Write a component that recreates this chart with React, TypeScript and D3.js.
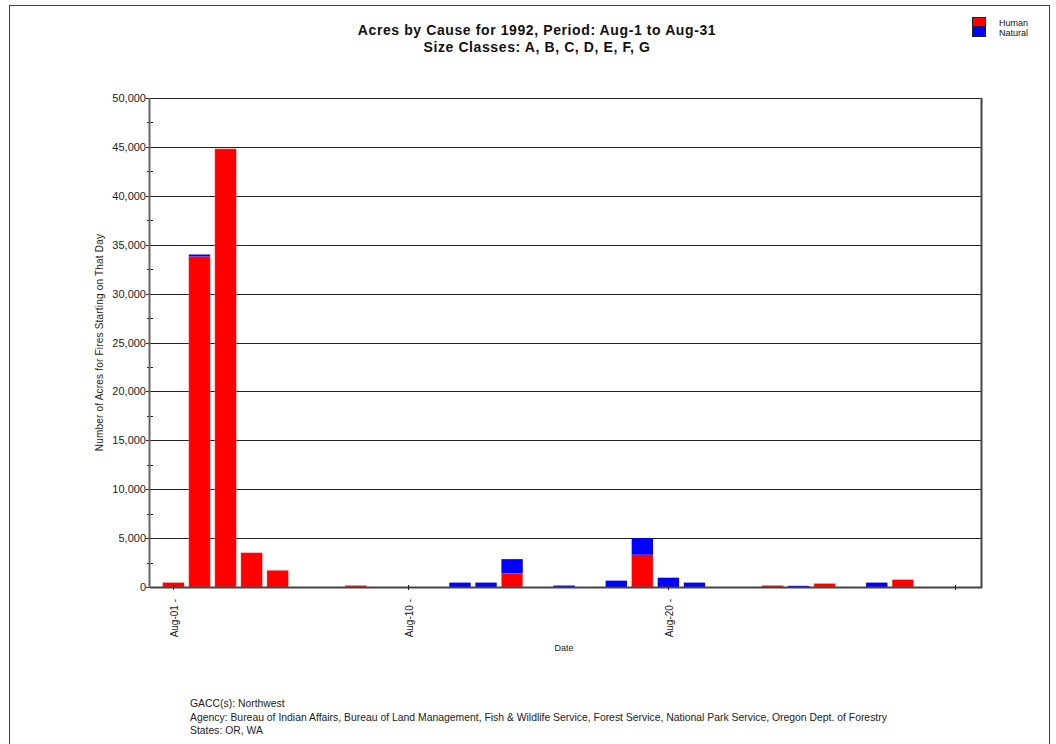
import React from 'react';
import * as d3 from 'd3';

// Acres per day (Aug 1992)
const days = [1, 2, 3, 4, 5, 8, 12, 13, 14, 16, 18, 19, 20, 21, 24, 25, 26, 28, 29];
const humanAcres = [450, 33800, 44800, 3500, 1700, 150, 0, 0, 1400, 0, 0, 3300, 0, 0, 150, 0, 350, 0, 750];
const naturalAcres = [0, 200, 0, 0, 0, 0, 450, 450, 1450, 150, 650, 1700, 950, 450, 0, 120, 0, 450, 0];

const yTicks = [0, 5000, 10000, 15000, 20000, 25000, 30000, 35000, 40000, 45000, 50000];
const yMinor = [2500, 7500, 12500, 17500, 22500, 27500, 32500, 37500, 42500, 47500];
const xTickDays = [1, 10, 20, 31];
const xTickLabels = ['Aug-01 -', 'Aug-10 -', 'Aug-20 -', ''];

const causes = ['Human', 'Natural'];
const causeColors = ['#ff0000', '#0000ff'];

const footer = [
  'GACC(s): Northwest',
  'Agency: Bureau of Indian Affairs, Bureau of Land Management, Fish & Wildlife Service, Forest Service, National Park Service, Oregon Dept. of Forestry',
  'States: OR, WA',
];

const W = 1056;
const H = 744;
const plot = { left: 150, right: 981, top: 98, bottom: 587 };
const font = 'Arial, "Liberation Sans", sans-serif';

const App: React.FC = () => {
  const x = d3.scaleLinear().domain([0.1, 32]).range([plot.left, plot.right]);
  const y = d3.scaleLinear().domain([0, 50000]).range([plot.bottom, plot.top]);
  const step = x(2) - x(1);
  const barW = step * 0.82;
  const fmt = d3.format(',');

  const rows = days.map((d, i) => ({ day: d, Human: humanAcres[i], Natural: naturalAcres[i] }));
  const stacked = d3.stack<any>().keys(causes)(rows);

  return (
    <svg
      width={W}
      height={H}
      style={{ position: 'absolute', left: 0, top: 0, background: '#fff' }}
      fontFamily={font}
    >
      <rect x={9.5} y={5.5} width={1040} height={760} fill="#fff" stroke="#444" />

      {/* title */}
      <text x={537} y={35} textAnchor="middle" fontSize={14} fontWeight="bold" fill="#111" letterSpacing={0.6}>
        Acres by Cause for 1992, Period: Aug-1 to Aug-31
      </text>
      <text x={537} y={52} textAnchor="middle" fontSize={14} fontWeight="bold" fill="#111" letterSpacing={0.6}>
        Size Classes: A, B, C, D, E, F, G
      </text>

      {/* legend */}
      {causes.map((c, i) => (
        <g key={c}>
          <rect x={972.5} y={17.5 + i * 10} width={13} height={9} fill={causeColors[i]} stroke="#222" />
          <text x={999} y={25.5 + i * 10} fontSize={9} fill="#111">{c}</text>
        </g>
      ))}

      {/* gridlines */}
      {yTicks.map(t => (
        <g key={t}>
          <line x1={plot.left - 4} x2={plot.right} y1={Math.round(y(t)) + 0.5} y2={Math.round(y(t)) + 0.5} stroke="#222" />
          <text x={plot.left - 4} y={y(t) + 4} textAnchor="end" fontSize={11} fill="#222">{fmt(t)}</text>
        </g>
      ))}
      {yMinor.map(t => (
        <line key={t} x1={plot.left - 3} x2={plot.left + 3} y1={Math.round(y(t)) + 0.5} y2={Math.round(y(t)) + 0.5} stroke="#222" />
      ))}

      {/* bars */}
      {stacked.map((s, si) => (
        <g key={s.key} fill={causeColors[si]}>
          {s.map((seg, j) => {
            const h = y(seg[0]) - y(seg[1]);
            if (h <= 0) return null;
            return (
              <rect
                key={j}
                x={x(seg.data.day) - barW / 2}
                y={y(seg[1])}
                width={barW}
                height={h}
                stroke="#ff9a9a"
                strokeOpacity={si === 0 ? 0.6 : 0}
                strokeWidth={0.6}
              />
            );
          })}
        </g>
      ))}

      {/* axes frame */}
      <line x1={plot.left - 0.5} x2={plot.left - 0.5} y1={plot.top} y2={plot.bottom + 1} stroke="#666" strokeWidth={2} />
      <line x1={plot.right + 0.5} x2={plot.right + 0.5} y1={plot.top} y2={plot.bottom + 1} stroke="#444" strokeWidth={2} />
      <line x1={plot.left} x2={plot.right + 1} y1={plot.bottom + 0.5} y2={plot.bottom + 0.5} stroke="#444" strokeWidth={2} />

      {/* x ticks */}
      {xTickDays.map((d, i) => (
        <g key={d}>
          <line x1={Math.round(x(d)) + 0.5} x2={Math.round(x(d)) + 0.5} y1={plot.bottom - 2} y2={plot.bottom + 3} stroke="#222" />
          {xTickLabels[i] && (
            <text
              transform={`translate(${x(d) + 5},${plot.bottom + 12}) rotate(-90)`}
              textAnchor="end"
              fontSize={10}
              fill="#222"
            >
              {xTickLabels[i]}
            </text>
          )}
        </g>
      ))}

      {/* axis titles */}
      <text x={564} y={651} textAnchor="middle" fontSize={9} fill="#222">Date</text>
      <text
        transform={`translate(103,${(plot.top + plot.bottom) / 2}) rotate(-90)`}
        textAnchor="middle"
        fontSize={10}
        letterSpacing={0.2}
        fill="#222"
      >
        Number of Acres for Fires Starting on That Day
      </text>

      {/* footer */}
      {footer.map((t, i) => (
        <text key={i} x={190} y={707 + i * 13.5} fontSize={10.4} fill="#222">{t}</text>
      ))}
    </svg>
  );
};

export default App;
